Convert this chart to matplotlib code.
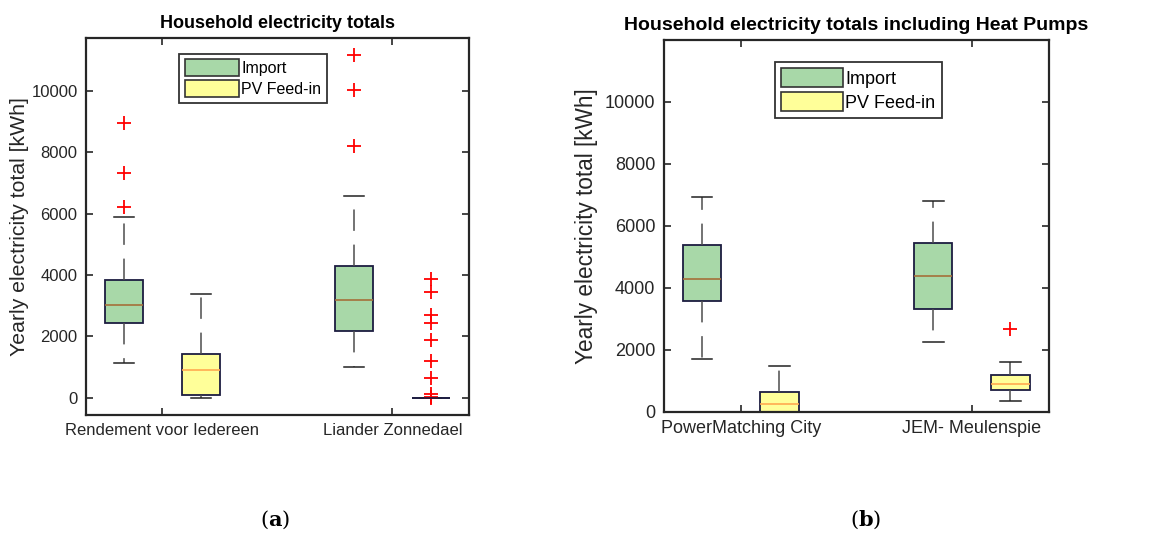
import matplotlib
matplotlib.use("Agg")
import matplotlib.pyplot as plt
from matplotlib.patches import Patch

plt.rcParams["font.family"] = ["Liberation Sans", "DejaVu Sans"]

# ── Box statistics (kWh per household per year) ──────────────────────
sites_a = ["Rendement voor Iedereen", "Liander Zonnedael"]
import_a = [
    dict(q1=2443, med=3020, q3=3834, whislo=1120, whishi=5876, fliers=[6222, 7319, 8938]),
    dict(q1=2173, med=3192, q3=4300, whislo=1010, whishi=6560, fliers=[8208, 10013, 11163]),
]
pv_a = [
    dict(q1=88, med=912, q3=1423, whislo=10, whishi=3368, fliers=[]),
    dict(q1=0, med=0, q3=0, whislo=0, whishi=0,
         fliers=[3857, 3433, 2694, 2423, 1879, 1195, 641, 120, 40, 0]),
]

sites_b = ["PowerMatching City", "JEM- Meulenspie"]
import_b = [
    dict(q1=3591, med=4301, q3=5398, whislo=1710, whishi=6925, fliers=[]),
    dict(q1=3323, med=4376, q3=5441, whislo=2258, whishi=6796, fliers=[]),
]
pv_b = [
    dict(q1=0, med=247, q3=645, whislo=0, whishi=1495, fliers=[]),
    dict(q1=699, med=893, q3=1204, whislo=366, whishi=1602, fliers=[2688]),
]

GREEN = "#a8d8a8"
YELLOW = "#ffff99"
EDGE = "#1c1c40"


def draw_boxes(ax, stats, pos, face, med_color):
    parts = ax.bxp(stats, positions=pos, widths=0.167, patch_artist=True,
                   boxprops=dict(facecolor=face, edgecolor=EDGE, linewidth=1.3),
                   medianprops=dict(color=med_color, linewidth=1.2),
                   whiskerprops=dict(color="#4d4d4d", linewidth=1.1,
                                     linestyle=(0, (14, 9))),
                   capprops=dict(color="#222222", linewidth=1.1),
                   flierprops=dict(marker="+", markeredgecolor="red", markersize=10,
                                   markeredgewidth=1.3, linestyle="none"),
                   capwidths=0.09)
    # a box with zero spread shows only its dark outline
    for st, med in zip(stats, parts["medians"]):
        if st["q1"] == st["q3"]:
            med.set_color(EDGE)


def panel(ax, sites, imp, pv, title, ylim, fs, leg_fs, title_fs, leg_anchor, ypad):
    draw_boxes(ax, imp, [0.833, 1.833], GREEN, "#a5703a")
    draw_boxes(ax, pv, [1.167, 2.167], YELLOW, "#ffaa50")
    ax.set_xlim(0.667, 2.333)
    ax.set_ylim(*ylim)
    ax.set_xticks([1, 2], sites)
    ax.set_yticks(range(0, 10001, 2000))
    ax.tick_params(direction="in", length=5, width=1.2, labelsize=fs,
                   top=True, right=True, colors="#262626", pad=6)
    for s in ax.spines.values():
        s.set_linewidth(1.6)
        s.set_color("#262626")
    ax.set_ylabel("Yearly electricity total [kWh]", fontsize=fs + 3.3, color="#262626",
                  labelpad=ypad)
    ax.set_title(title, fontsize=title_fs, fontweight="bold", pad=7)
    handles = [Patch(facecolor=GREEN, edgecolor="#333333", linewidth=1.2, label="Import"),
               Patch(facecolor=YELLOW, edgecolor="#333333", linewidth=1.2, label="PV Feed-in")]
    leg = ax.legend(handles=handles, loc="upper left", bbox_to_anchor=leg_anchor,
                    borderaxespad=0, fontsize=leg_fs, fancybox=False, framealpha=1,
                    handlelength=3.4, handleheight=1.25, handletextpad=0.15,
                    borderpad=0.35, labelspacing=0.25)
    leg.get_frame().set_edgecolor("#333333")
    leg.get_frame().set_linewidth(1.3)


fig = plt.figure(figsize=(11.63, 5.34), dpi=100)
ax1 = fig.add_axes([0.0739, 0.2228, 0.3293, 0.706])
ax2 = fig.add_axes([0.5707, 0.2285, 0.331, 0.6966])

panel(ax1, sites_a, import_a, pv_a, "Household electricity totals",
      (-560, 11720), 12, 11.5, 13, (0.243, 0.958), 2)
panel(ax2, sites_b, import_b, pv_b, "Household electricity totals including Heat Pumps",
      (0, 12000), 13, 13, 14, (0.289, 0.941), 5)

plt.rcParams["mathtext.fontset"] = "dejavuserif"
fig.text(275 / 1163, 1 - 520 / 534, r"($\mathbf{a}$)", ha="center", va="center",
         fontsize=15, family="DejaVu Serif")
fig.text(866 / 1163, 1 - 520 / 534, r"($\mathbf{b}$)", ha="center", va="center",
         fontsize=15, family="DejaVu Serif")

fig.savefig("out.png", dpi=100)
